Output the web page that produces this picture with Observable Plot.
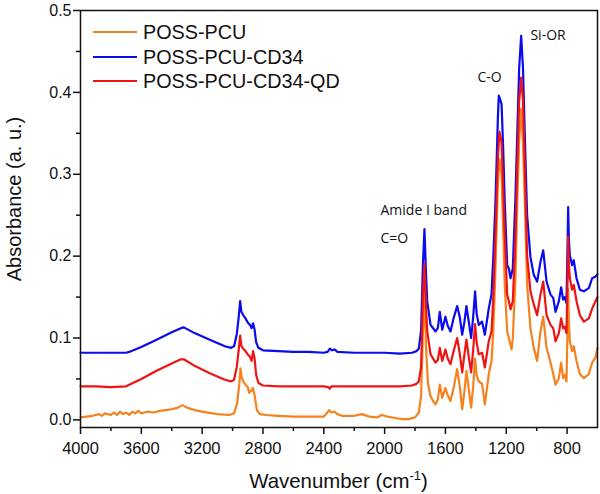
<!DOCTYPE html>
<html><head><meta charset="utf-8">
<script src="https://cdn.jsdelivr.net/npm/d3@7"></script>
<script src="https://cdn.jsdelivr.net/npm/@observablehq/plot@0.6"></script>
<style>
body{margin:0;background:#fff;}
#wrap{position:relative;width:600px;height:494px;font-family:"Liberation Sans",Arial,sans-serif;color:#111;}
.leg{position:absolute;left:93px;height:22px;line-height:22px;font-size:19.8px;display:flex;align-items:center;white-space:nowrap;}
.leg .sw{display:inline-block;width:44px;height:2px;margin-right:6px;}
#xtitle{position:absolute;left:80px;width:517px;top:471px;text-align:center;font-size:20.4px;line-height:20px;}
#xtitle sup{font-size:13px;line-height:0;vertical-align:8px;}
</style></head><body><div id="wrap"></div>
<script>
const seriesNames = ["POSS-PCU", "POSS-PCU-CD34", "POSS-PCU-CD34-QD"];
const seriesColors = ["#f5821f", "#0b0bef", "#ee1414"];

// [wavenumber (cm-1), absorbance]
const possPcu = [[4000,0.003],[3960,0.004],[3920,0.005],[3880,0.007],[3860,0.005],[3840,0.008],[3800,0.006],[3780,0.009],[3760,0.006],[3740,0.010],[3720,0.007],[3700,0.009],[3680,0.006],[3660,0.010],[3640,0.008],[3620,0.011],[3600,0.008],[3560,0.010],[3520,0.009],[3480,0.011],[3440,0.012],[3400,0.013],[3360,0.015],[3330,0.018],[3300,0.015],[3250,0.012],[3200,0.010],[3100,0.007],[3020,0.006],[2990,0.008],[2970,0.020],[2955,0.045],[2948,0.063],[2940,0.052],[2930,0.047],[2915,0.043],[2900,0.040],[2890,0.033],[2875,0.036],[2866,0.039],[2855,0.030],[2840,0.012],[2820,0.007],[2780,0.006],[2700,0.005],[2600,0.004],[2500,0.004],[2400,0.004],[2380,0.008],[2365,0.012],[2350,0.009],[2330,0.010],[2310,0.007],[2280,0.005],[2200,0.005],[2150,0.007],[2100,0.004],[2050,0.003],[2020,0.006],[1980,0.004],[1920,0.002],[1880,0.001],[1840,0.001],[1800,0.003],[1775,0.009],[1760,0.030],[1748,0.110],[1738,0.155],[1728,0.090],[1715,0.045],[1700,0.030],[1682,0.023],[1665,0.019],[1650,0.025],[1637,0.043],[1621,0.027],[1600,0.039],[1585,0.030],[1567,0.023],[1545,0.040],[1523,0.062],[1505,0.040],[1490,0.013],[1475,0.035],[1462,0.060],[1445,0.035],[1431,0.015],[1418,0.040],[1405,0.075],[1395,0.055],[1381,0.047],[1359,0.044],[1341,0.019],[1315,0.056],[1297,0.072],[1285,0.110],[1271,0.185],[1255,0.290],[1245,0.319],[1231,0.299],[1220,0.230],[1210,0.165],[1194,0.108],[1183,0.100],[1165,0.086],[1157,0.100],[1140,0.170],[1128,0.266],[1115,0.340],[1102,0.380],[1090,0.340],[1078,0.266],[1063,0.165],[1041,0.112],[1019,0.088],[1008,0.080],[997,0.072],[975,0.108],[957,0.126],[935,0.088],[909,0.070],[891,0.056],[876,0.043],[854,0.051],[839,0.070],[826,0.051],[815,0.055],[804,0.047],[797,0.110],[793,0.160],[788,0.120],[782,0.096],[767,0.084],[756,0.090],[738,0.072],[716,0.056],[690,0.051],[657,0.056],[635,0.070],[613,0.076],[600,0.088]];

const possPcuCd34 = [[4000,0.082],[3900,0.082],[3800,0.082],[3700,0.082],[3680,0.083],[3600,0.089],[3500,0.098],[3400,0.107],[3340,0.112],[3320,0.113],[3250,0.106],[3150,0.098],[3050,0.090],[3010,0.088],[2990,0.090],[2972,0.105],[2960,0.125],[2950,0.145],[2942,0.132],[2930,0.128],[2915,0.124],[2900,0.119],[2885,0.116],[2875,0.112],[2865,0.118],[2855,0.110],[2845,0.095],[2830,0.088],[2800,0.085],[2700,0.084],[2600,0.083],[2500,0.083],[2400,0.082],[2375,0.083],[2360,0.087],[2345,0.085],[2330,0.086],[2310,0.083],[2200,0.082],[2100,0.082],[2000,0.082],[1900,0.081],[1820,0.082],[1790,0.084],[1775,0.087],[1760,0.110],[1748,0.190],[1738,0.233],[1728,0.180],[1720,0.145],[1698,0.116],[1665,0.108],[1650,0.112],[1637,0.132],[1621,0.110],[1600,0.126],[1585,0.115],[1567,0.108],[1545,0.125],[1523,0.139],[1505,0.125],[1490,0.104],[1475,0.120],[1462,0.139],[1445,0.118],[1431,0.100],[1418,0.125],[1405,0.157],[1395,0.130],[1381,0.116],[1359,0.120],[1341,0.104],[1315,0.136],[1297,0.153],[1285,0.200],[1271,0.266],[1255,0.370],[1249,0.396],[1231,0.386],[1220,0.330],[1210,0.266],[1194,0.189],[1183,0.185],[1172,0.173],[1157,0.185],[1140,0.270],[1128,0.347],[1115,0.430],[1102,0.469],[1090,0.430],[1078,0.347],[1063,0.250],[1041,0.199],[1019,0.177],[997,0.169],[975,0.193],[957,0.207],[935,0.169],[909,0.153],[891,0.149],[876,0.132],[854,0.145],[839,0.162],[826,0.147],[815,0.150],[804,0.1425],[797,0.210],[793,0.260],[788,0.220],[782,0.201],[767,0.189],[756,0.195],[738,0.173],[716,0.159],[690,0.157],[657,0.161],[635,0.173],[613,0.175],[600,0.178]];

const possPcuCd34Qd = [[4000,0.041],[3900,0.041],[3800,0.040],[3700,0.041],[3690,0.042],[3600,0.050],[3500,0.060],[3400,0.069],[3340,0.074],[3320,0.074],[3250,0.066],[3150,0.057],[3050,0.049],[3010,0.047],[2990,0.049],[2972,0.065],[2960,0.085],[2950,0.103],[2942,0.090],[2930,0.087],[2915,0.084],[2900,0.080],[2885,0.077],[2875,0.072],[2865,0.084],[2855,0.075],[2845,0.055],[2830,0.045],[2800,0.042],[2700,0.041],[2600,0.041],[2500,0.041],[2400,0.041],[2370,0.040],[2360,0.038],[2350,0.041],[2200,0.041],[2000,0.041],[1900,0.041],[1820,0.042],[1790,0.044],[1775,0.047],[1760,0.065],[1748,0.150],[1738,0.191],[1728,0.140],[1720,0.108],[1698,0.080],[1665,0.070],[1650,0.073],[1637,0.088],[1621,0.072],[1600,0.086],[1585,0.075],[1567,0.068],[1545,0.085],[1523,0.100],[1505,0.080],[1490,0.058],[1475,0.080],[1462,0.098],[1445,0.075],[1431,0.058],[1418,0.085],[1405,0.117],[1395,0.095],[1381,0.080],[1359,0.082],[1341,0.064],[1315,0.096],[1297,0.108],[1285,0.150],[1271,0.226],[1255,0.320],[1245,0.352],[1231,0.339],[1220,0.280],[1210,0.226],[1194,0.153],[1183,0.145],[1172,0.135],[1157,0.145],[1140,0.220],[1128,0.307],[1115,0.390],[1102,0.418],[1090,0.390],[1078,0.307],[1063,0.201],[1041,0.157],[1019,0.141],[997,0.128],[975,0.153],[957,0.169],[935,0.128],[909,0.116],[891,0.112],[876,0.096],[854,0.106],[839,0.124],[826,0.112],[815,0.114],[804,0.106],[797,0.170],[793,0.224],[788,0.190],[782,0.173],[767,0.159],[756,0.165],[738,0.145],[716,0.128],[690,0.120],[657,0.124],[635,0.136],[613,0.145],[600,0.150]];

const xTicks = [4000, 3600, 3200, 2800, 2400, 2000, 1600, 1200, 800];
const xMinorTicks = [3800, 3400, 3000, 2600, 2200, 1800, 1400, 1000];
const yTicks = [0, 0.1, 0.2, 0.3, 0.4, 0.5];
const yMinorTicks = [0.05, 0.15, 0.25, 0.35, 0.45];

const annotationLabels = ["Amide I band", "C=O", "C-O", "Si-OR"];
const annotationW = [2027, 2027, 1389, 1041];
const annotationA = [0.256, 0.221, 0.418, 0.470];

const xTitle = "Wavenumber (cm";
const xTitleSup = "-1";
const yTitle = "Absorbance (a. u.)";

const seriesData = [possPcu, possPcuCd34, possPcuCd34Qd];
const rows = seriesData.flatMap((arr, i) => arr.map(([w, a]) => ({series: seriesNames[i], w, a})));
const annotations = annotationLabels.map((label, i) => ({label, w: annotationW[i], a: annotationA[i]}));

const chart = Plot.plot({
  width: 600, height: 494,
  marginLeft: 80, marginRight: 3, marginTop: 10, marginBottom: 67,
  style: {fontFamily: "'Liberation Sans', Arial, sans-serif", fontSize: "16px", color: "#111", background: "#fff", overflow: "visible"},
  x: {domain: [4000, 600]},
  y: {domain: [-0.0093, 0.5]},
  color: {domain: seriesNames, range: seriesColors},
  marks: [
    Plot.axisX(xMinorTicks, {tickSize: 4, strokeWidth: 1.5, tickFormat: () => "", label: null}),
    Plot.axisX(xTicks, {tickSize: 7, strokeWidth: 1.5, tickPadding: 8, tickFormat: d => String(d), label: null, fontSize: 16.5}),
    Plot.axisY(yMinorTicks, {tickSize: 4, strokeWidth: 1.5, tickFormat: () => "", label: null}),
    Plot.axisY(yTicks, {tickSize: 7, strokeWidth: 1.5, tickPadding: 2, tickFormat: d3.format(".1f"), label: null, fontSize: 16}),
    Plot.line(rows, {x: "w", y: "a", z: "series", stroke: "series", strokeWidth: 2.2, strokeLinejoin: "round"}),
    Plot.frame({stroke: "#111", strokeWidth: 1.5}),
    Plot.text(annotations, {x: "w", y: "a", text: "label", textAnchor: "start", fontFamily: "'Open Sans', sans-serif", fontSize: 14, fill: "#111"}),
    Plot.text([yTitle], {frameAnchor: "left", textAnchor: "middle", rotate: -90, dx: -66, dy: -20, fontSize: 20, fill: "#111"})
  ]
});

const wrap = document.getElementById("wrap");
wrap.appendChild(chart);
const legendTops = [21, 46, 70];
seriesNames.forEach((name, i) => {
  const d = document.createElement("div");
  d.className = "leg";
  d.style.top = legendTops[i] + "px";
  const sw = document.createElement("span");
  sw.className = "sw";
  sw.style.background = seriesColors[i];
  d.appendChild(sw);
  d.appendChild(document.createTextNode(name));
  wrap.appendChild(d);
});
const xt = document.createElement("div");
xt.id = "xtitle";
xt.appendChild(document.createTextNode(xTitle));
const sup = document.createElement("sup");
sup.textContent = xTitleSup;
xt.appendChild(sup);
xt.appendChild(document.createTextNode(")"));
wrap.appendChild(xt);
</script></body></html>
